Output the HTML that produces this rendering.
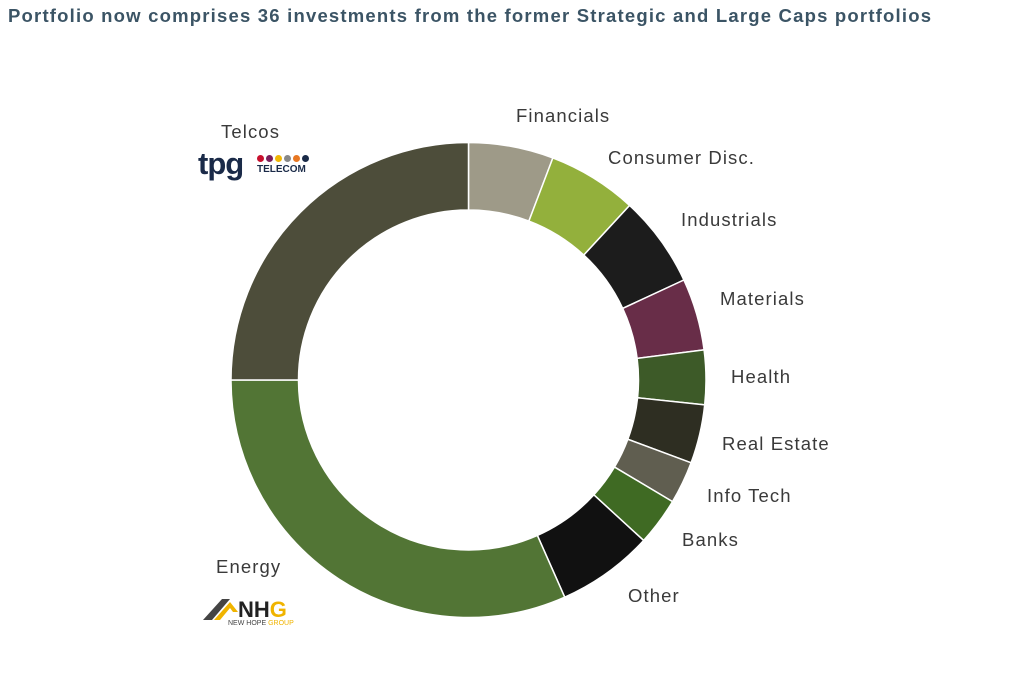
<!DOCTYPE html>
<html><head><meta charset="utf-8"><style>
body{margin:0;background:#fff;width:1024px;height:674px;overflow:hidden;font-family:"Liberation Sans",sans-serif}
.t{position:absolute;left:8px;top:5px;font-size:18.5px;font-weight:bold;color:#3b5465;letter-spacing:1.2px;white-space:nowrap}
.l{position:absolute;font-size:18.5px;color:#3a3a3a;white-space:nowrap;letter-spacing:1.1px}
</style></head><body>
<div class="t">Portfolio now comprises 36 investments from the former Strategic and Large Caps portfolios</div>
<svg id="s" width="1024" height="674" style="position:absolute;left:0;top:0"></svg>
<div class="l" style="left:516px;top:105px">Financials</div>
<div class="l" style="left:608px;top:147px">Consumer Disc.</div>
<div class="l" style="left:681px;top:209px">Industrials</div>
<div class="l" style="left:720px;top:288px">Materials</div>
<div class="l" style="left:731px;top:366px">Health</div>
<div class="l" style="left:722px;top:433px">Real Estate</div>
<div class="l" style="left:707px;top:485px">Info Tech</div>
<div class="l" style="left:682px;top:529px">Banks</div>
<div class="l" style="left:628px;top:585px">Other</div>
<div class="l" style="left:221px;top:121px">Telcos</div>
<div class="l" style="left:216px;top:556px">Energy</div>
<div style="position:absolute;left:198px;top:146px;font-size:31px;font-weight:bold;color:#1a2a48;letter-spacing:-1px">tpg</div>
<div style="position:absolute;left:257px;top:155px;font-size:0">
<span style="display:inline-block;width:7px;height:7px;border-radius:50%;background:#c8102e;margin-right:2px"></span><span style="display:inline-block;width:7px;height:7px;border-radius:50%;background:#7a1f5c;margin-right:2px"></span><span style="display:inline-block;width:7px;height:7px;border-radius:50%;background:#f2b705;margin-right:2px"></span><span style="display:inline-block;width:7px;height:7px;border-radius:50%;background:#888;margin-right:2px"></span><span style="display:inline-block;width:7px;height:7px;border-radius:50%;background:#e87722;margin-right:2px"></span><span style="display:inline-block;width:7px;height:7px;border-radius:50%;background:#1a2a48"></span></div>
<div style="position:absolute;left:257px;top:164px;font-size:10px;font-weight:bold;color:#1a2a48">TELECOM</div>
<svg width="60" height="30" style="position:absolute;left:200px;top:596px"><path d="M3 24 L22 3 L30 3 L12 24 Z" fill="#444"/><path d="M14 24 L30 6 L38 16 L33 16 L30 12 L20 24Z" fill="#f0b400"/></svg>
<div style="position:absolute;left:238px;top:597px;font-size:22px;font-weight:bold;color:#222">NH<span style="color:#f0b400">G</span></div>
<div style="position:absolute;left:228px;top:620px;font-size:7px;color:#444">NEW HOPE <span style="color:#f0b400">GROUP</span></div>
<script>
var cx=468.5,cy=380,R=237.5,r=170;
var seg=[[0,20.8,"#9e9a88"],[20.8,42.7,"#93b03c"],[42.7,65.1,"#1c1c1c"],[65.1,82.7,"#682d48"],[82.7,96,"#3d5a28"],[96,110.4,"#2e2e22"],[110.4,120.8,"#605e50"],[120.8,132.5,"#3f6a23"],[132.5,156.1,"#111111"],[156.1,270,"#527535"],[270,360,"#4d4d3a"]];
function p(a,rad){a=a*Math.PI/180;return [cx+rad*Math.sin(a),cy-rad*Math.cos(a)];}
var h="";
seg.forEach(function(s){var a=p(s[0],R),b=p(s[1],R),c=p(s[1],r),d=p(s[0],r),lg=(s[1]-s[0])>180?1:0;
h+='<path d="M'+a+' A'+R+' '+R+' 0 '+lg+' 1 '+b+' L'+c+' A'+r+' '+r+' 0 '+lg+' 0 '+d+' Z" fill="'+s[2]+'" stroke="#fff" stroke-width="1.5"/>';});
document.getElementById("s").innerHTML=h;
</script>
</body></html>
